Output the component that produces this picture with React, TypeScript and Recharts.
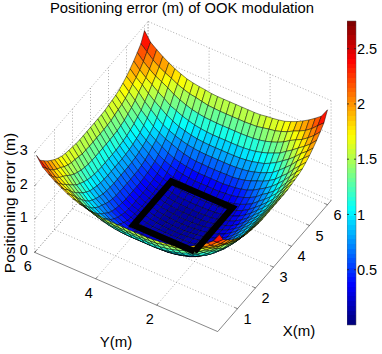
import React from 'react'
import {
  ScatterChart,
  Scatter,
  XAxis,
  YAxis,
  BarChart,
  Bar,
  ReferenceLine,
} from 'recharts'

const FONT = '"Liberation Sans", Arial, sans-serif'

const xGrid = [0, 0.2, 0.4, 0.6, 0.8, 1, 1.2, 1.4, 1.6, 1.8, 2, 2.2, 2.4, 2.6, 2.8, 3, 3.2, 3.4, 3.6, 3.8, 4, 4.2, 4.4, 4.6, 4.8, 5, 5.2, 5.4, 5.6, 5.8, 6]
const yGrid = xGrid

// error, in cm (row = x, column = y)
const errorCm = [
  [285, 258, 244, 231, 220, 210, 202, 195, 191, 188, 186, 183, 182, 182, 182, 182, 182, 182, 182, 183, 186, 188, 191, 195, 202, 210, 220, 231, 244, 258, 285],
  [258, 242, 225, 212, 202, 194, 184, 177, 171, 168, 164, 160, 159, 158, 158, 158, 158, 158, 159, 160, 164, 168, 171, 177, 184, 194, 202, 212, 225, 242, 258],
  [244, 225, 210, 197, 188, 178, 166, 157, 150, 144, 140, 137, 136, 135, 135, 135, 135, 135, 136, 137, 140, 144, 150, 157, 166, 178, 188, 197, 210, 225, 244],
  [231, 212, 197, 184, 170, 158, 145, 137, 129, 123, 118, 115, 113, 112, 112, 112, 112, 112, 113, 115, 118, 123, 129, 137, 145, 158, 170, 184, 197, 212, 231],
  [220, 202, 188, 170, 155, 142, 129, 119, 110, 105, 100, 97, 95, 94, 94, 94, 94, 94, 95, 97, 100, 105, 110, 119, 129, 142, 155, 170, 188, 202, 220],
  [210, 194, 178, 158, 142, 126, 112, 103, 95, 89, 84, 81, 79, 78, 78, 78, 78, 78, 79, 81, 84, 89, 95, 103, 112, 126, 142, 158, 178, 194, 210],
  [202, 184, 166, 145, 129, 112, 100, 90, 83, 75, 69, 65, 62, 62, 61, 61, 61, 62, 62, 65, 69, 75, 83, 90, 100, 112, 129, 145, 166, 184, 202],
  [195, 177, 157, 137, 119, 103, 90, 79, 68, 60, 55, 51, 49, 47, 47, 47, 47, 47, 49, 51, 55, 60, 68, 79, 90, 103, 119, 137, 157, 177, 195],
  [191, 171, 150, 129, 110, 95, 83, 68, 58, 50, 44, 40, 38, 36, 36, 36, 36, 36, 38, 40, 44, 50, 58, 68, 83, 95, 110, 129, 150, 171, 191],
  [188, 168, 144, 123, 105, 89, 75, 60, 50, 42, 36, 32, 30, 28, 28, 28, 28, 28, 30, 32, 36, 42, 50, 60, 75, 89, 105, 123, 144, 168, 188],
  [186, 164, 140, 118, 100, 84, 69, 55, 44, 36, 30, 27, 24, 23, 22, 22, 22, 23, 24, 27, 30, 36, 44, 55, 69, 84, 100, 118, 140, 164, 186],
  [183, 160, 137, 115, 97, 81, 65, 51, 40, 32, 27, 22, 19, 18, 17, 17, 17, 18, 19, 22, 27, 32, 40, 51, 65, 81, 97, 115, 137, 160, 183],
  [182, 159, 136, 113, 95, 79, 62, 49, 38, 30, 24, 19, 16, 15, 14, 14, 14, 15, 16, 19, 24, 30, 38, 49, 62, 79, 95, 113, 136, 159, 182],
  [182, 158, 135, 112, 94, 78, 62, 47, 36, 28, 23, 18, 15, 13, 12, 12, 12, 13, 15, 18, 23, 28, 36, 47, 62, 78, 94, 112, 135, 158, 182],
  [182, 158, 135, 112, 94, 78, 61, 47, 36, 28, 22, 17, 14, 12, 10, 10, 10, 12, 14, 17, 22, 28, 36, 47, 61, 78, 94, 112, 135, 158, 182],
  [182, 158, 135, 112, 94, 78, 61, 47, 36, 28, 22, 17, 14, 12, 10, 10, 10, 12, 14, 17, 22, 28, 36, 47, 61, 78, 94, 112, 135, 158, 182],
  [182, 158, 135, 112, 94, 78, 61, 47, 36, 28, 22, 17, 14, 12, 10, 10, 10, 12, 14, 17, 22, 28, 36, 47, 61, 78, 94, 112, 135, 158, 182],
  [182, 158, 135, 112, 94, 78, 62, 47, 36, 28, 23, 18, 15, 13, 12, 12, 12, 13, 15, 18, 23, 28, 36, 47, 62, 78, 94, 112, 135, 158, 182],
  [182, 159, 136, 113, 95, 79, 62, 49, 38, 30, 24, 19, 16, 15, 14, 14, 14, 15, 16, 19, 24, 30, 38, 49, 62, 79, 95, 113, 136, 159, 182],
  [183, 160, 137, 115, 97, 81, 65, 51, 40, 32, 27, 22, 19, 18, 17, 17, 17, 18, 19, 22, 27, 32, 40, 51, 65, 81, 97, 115, 137, 160, 183],
  [186, 164, 140, 118, 100, 84, 69, 55, 44, 36, 30, 27, 24, 23, 22, 22, 22, 23, 24, 27, 30, 36, 44, 55, 69, 84, 100, 118, 140, 164, 186],
  [188, 168, 144, 123, 105, 89, 75, 60, 50, 42, 36, 32, 30, 28, 28, 28, 28, 28, 30, 32, 36, 42, 50, 60, 75, 89, 105, 123, 144, 168, 188],
  [191, 171, 150, 129, 110, 95, 83, 68, 58, 50, 44, 40, 38, 36, 36, 36, 36, 36, 38, 40, 44, 50, 58, 68, 83, 95, 110, 129, 150, 171, 191],
  [195, 177, 157, 137, 119, 103, 90, 79, 68, 60, 55, 51, 49, 47, 47, 47, 47, 47, 49, 51, 55, 60, 68, 79, 90, 103, 119, 137, 157, 177, 195],
  [202, 184, 166, 145, 129, 112, 100, 90, 83, 75, 69, 65, 62, 62, 61, 61, 61, 62, 62, 65, 69, 75, 83, 90, 100, 112, 129, 145, 166, 184, 202],
  [210, 194, 178, 158, 142, 126, 112, 103, 95, 89, 84, 81, 79, 78, 78, 78, 78, 78, 79, 81, 84, 89, 95, 103, 112, 126, 142, 158, 178, 194, 210],
  [220, 202, 188, 170, 155, 142, 129, 119, 110, 105, 100, 97, 95, 94, 94, 94, 94, 94, 95, 97, 100, 105, 110, 119, 129, 142, 155, 170, 188, 202, 220],
  [231, 212, 197, 184, 170, 158, 145, 137, 129, 123, 118, 115, 113, 112, 112, 112, 112, 112, 113, 115, 118, 123, 129, 137, 145, 158, 170, 184, 197, 212, 231],
  [244, 225, 210, 197, 188, 178, 166, 157, 150, 144, 140, 137, 136, 135, 135, 135, 135, 135, 136, 137, 140, 144, 150, 157, 166, 178, 188, 197, 210, 225, 244],
  [258, 242, 225, 212, 202, 194, 184, 177, 171, 168, 164, 160, 159, 158, 158, 158, 158, 158, 159, 160, 164, 168, 171, 177, 184, 194, 202, 212, 225, 242, 258],
  [285, 258, 244, 231, 220, 210, 202, 195, 191, 188, 186, 183, 182, 182, 182, 182, 182, 182, 182, 183, 186, 188, 191, 195, 202, 210, 220, 231, 244, 258, 285],
]

const xTicks = [1, 2, 3, 4, 5, 6]
const yTicks = [2, 4, 6]
const zTicks = [0, 1, 2, 3]
const colorTicks = [0.5, 1, 1.5, 2, 2.5]

// the black square on the surface: x, y, z of each corner
const squareX = [2, 4.1, 4.1, 2, 2]
const squareY = [2, 2, 4, 4, 2]
const squareZ = [0.3, 0.3, 0.3, 0.3, 0.3]

const X_LIM = [-0.1, 6.2]
const Y_LIM = [0, 6]
const Z_LIM = [0, 3]
const COLOR_MAX = 3.05

// orthographic view of the 3d box, in page pixels
function project(x: number, y: number, z: number) {
  return {
    sx: 219.5 + 18 * x - 30.5 * y,
    sy: 329.5 - 20.8 * x - 13.2 * y - 33.3 * z,
  }
}

function jet(t: number) {
  const v = Math.floor(Math.min(Math.max(t, 0), 0.9999) * 64) / 63
  const ch = (c: number) => Math.round(255 * Math.min(Math.max(1.5 - Math.abs(4 * v - c), 0), 1))
  return `rgb(${ch(3)},${ch(2)},${ch(1)})`
}

const surfaceData = xGrid.flatMap((x, i) =>
  yGrid.map((y, j) => project(x, y, errorCm[i][j] / 100))
)

function renderSurface({ points }: any) {
  const n = yGrid.length
  const cells = []
  // far corner first so the near side paints over it
  for (let i = xGrid.length - 2; i >= 0; i--) {
    for (let j = n - 2; j >= 0; j--) {
      const a = points[i * n + j]
      const b = points[i * n + j + 1]
      const c = points[(i + 1) * n + j + 1]
      const d = points[(i + 1) * n + j]
      const mean = (errorCm[i][j] + errorCm[i][j + 1] + errorCm[i + 1][j] + errorCm[i + 1][j + 1]) / 400
      cells.push(
        <polygon
          key={`${i}-${j}`}
          points={`${a.x},${a.y} ${b.x},${b.y} ${c.x},${c.y} ${d.x},${d.y}`}
          fill={jet(mean / COLOR_MAX)}
          stroke="#000"
          strokeWidth={0.55}
          strokeOpacity={0.85}
        />
      )
    }
  }
  return <g>{cells}</g>
}

const noDot = () => null

function seg(a: number[], b: number[]) {
  return [project(a[0], a[1], a[2]), project(b[0], b[1], b[2])]
}

const [x0, x1] = X_LIM
const [y0, y1] = Y_LIM
const [z0, z1] = Z_LIM

const gridSegments = [
  ...xTicks.map(x => seg([x, y0, z0], [x, y1, z0])),
  ...xTicks.map(x => seg([x, y1, z0], [x, y1, z1])),
  ...yTicks.map(y => seg([x0, y, z0], [x1, y, z0])),
  ...yTicks.map(y => seg([x1, y, z0], [x1, y, z1])),
  ...zTicks.map(z => seg([x0, y1, z], [x1, y1, z])),
  ...zTicks.map(z => seg([x1, y0, z], [x1, y1, z])),
  seg([x0, y1, z0], [x0, y1, z1]),
  seg([x1, y0, z0], [x1, y0, z1]),
  seg([x1, y1, z0], [x1, y1, z1]),
]

const axisSegments = [
  seg([x0, y0, z0], [x1, y0, z0]),
  seg([x0, y0, z0], [x0, y1, z0]),
  ...xTicks.map(x => seg([x, y0, z0], [x, y0 + 0.1, z0])),
  ...yTicks.map(y => seg([x0, y, z0], [x0 + 0.1, y, z0])),
  ...zTicks.map(z => seg([x0, y1, z], [x0 + 0.08, y1, z])),
]

const squareData = squareX.map((x, i) => project(x, squareY[i], squareZ[i]))

const tickLabels = [
  ...xTicks.map(x => ({ ...project(x, y0, z0), label: String(x), dx: 10, dy: 10 })),
  ...yTicks.map(y => ({ ...project(x0, y, z0), label: String(y), dx: -7, dy: 14 })),
  ...zTicks.map(z => ({ ...project(x0, y1, z), label: String(z), dx: -11, dy: -2 })),
]

function renderTick({ cx, cy, payload }: any) {
  return (
    <text
      x={cx + payload.dx}
      y={cy + payload.dy}
      textAnchor="middle"
      dominantBaseline="central"
      fontFamily={FONT}
      fontSize={14.5}
      fill="#000"
    >
      {payload.label}
    </text>
  )
}

const colorData = [{ name: 'error', value: 2.75 }]
const jetStops = Array.from({ length: 64 }, (_, i) => i)

function Plot3D() {
  return (
    <ScatterChart width={382} height={354} margin={{ top: 0, right: 0, bottom: 0, left: 0 }}>
      <XAxis type="number" dataKey="sx" domain={[0, 382]} hide />
      <YAxis type="number" dataKey="sy" domain={[0, 354]} reversed hide />
      {gridSegments.map((s, i) => (
        <Scatter
          key={`g${i}`}
          data={s}
          shape={noDot}
          line={{ stroke: '#888', strokeWidth: 0.7, strokeDasharray: '1 2' }}
          isAnimationActive={false}
        />
      ))}
      {axisSegments.map((s, i) => (
        <Scatter
          key={`a${i}`}
          data={s}
          shape={noDot}
          line={{ stroke: '#555', strokeWidth: 0.7 }}
          isAnimationActive={false}
        />
      ))}
      <Scatter data={surfaceData} shape={noDot} line={renderSurface} isAnimationActive={false} />
      <Scatter
        data={squareData}
        shape={noDot}
        line={{ stroke: '#000', strokeWidth: 6.5, strokeLinejoin: 'miter' }}
        isAnimationActive={false}
      />
      <Scatter data={tickLabels} shape={renderTick} isAnimationActive={false} />
      <text x={182} y={8} textAnchor="middle" dominantBaseline="central" fontFamily={FONT} fontSize={14.8}>
        Positioning error (m) of OOK modulation
      </text>
      <text x={299} y={330} textAnchor="middle" dominantBaseline="central" fontFamily={FONT} fontSize={15}>
        X(m)
      </text>
      <text x={116} y={341} textAnchor="middle" dominantBaseline="central" fontFamily={FONT} fontSize={15}>
        Y(m)
      </text>
      <text
        transform="translate(9,203) rotate(-90)"
        textAnchor="middle"
        dominantBaseline="central"
        fontFamily={FONT}
        fontSize={15.5}
      >
        Positioning error (m)
      </text>
    </ScatterChart>
  )
}

function ColorBar() {
  return (
    <BarChart
      width={35}
      height={354}
      data={colorData}
      margin={{ top: 21, right: 0, bottom: 29, left: 0 }}
      barCategoryGap={0}
    >
      <defs>
        <linearGradient id="jetBar" x1="0" y1="1" x2="0" y2="0">
          {jetStops.flatMap(i => [
            <stop key={`${i}a`} offset={i / 64} stopColor={jet((i + 0.5) / 64)} />,
            <stop key={`${i}b`} offset={(i + 1) / 64} stopColor={jet((i + 0.5) / 64)} />,
          ])}
        </linearGradient>
      </defs>
      <XAxis dataKey="name" hide />
      <YAxis
        orientation="right"
        width={26}
        domain={[0, 2.75]}
        ticks={colorTicks}
        axisLine={false}
        tickLine={false}
        tickSize={0}
        tickMargin={1}
        tick={{ fontSize: 14.5, fill: '#000', fontFamily: FONT, textAnchor: 'start' }}
      />
      <Bar dataKey="value" fill="url(#jetBar)" stroke="#555" strokeWidth={0.5} isAnimationActive={false} />
      {colorTicks.map(t => (
        <ReferenceLine key={t} y={t} stroke="#222" strokeWidth={0.8} strokeDasharray="2 5 2" />
      ))}
    </BarChart>
  )
}

export default function App() {
  return (
    <div style={{ position: 'absolute', left: 0, top: 0, width: 382, height: 354, background: '#fff', overflow: 'hidden' }}>
      <div style={{ position: 'absolute', left: 0, top: 0 }}>
        <Plot3D />
      </div>
      <div style={{ position: 'absolute', left: 347, top: 0 }}>
        <ColorBar />
      </div>
    </div>
  )
}
